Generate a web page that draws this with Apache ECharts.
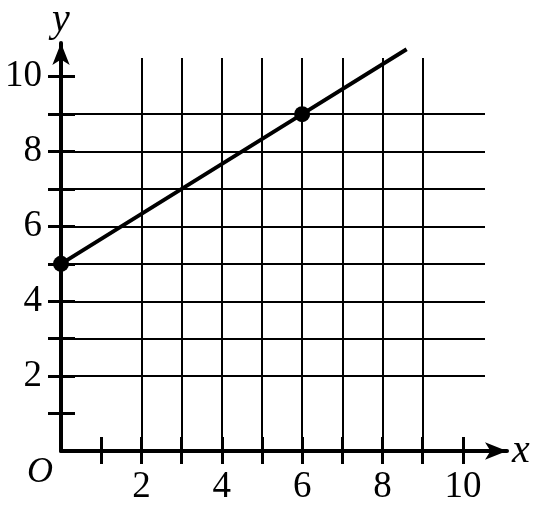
<!DOCTYPE html>
<html>
<head>
<meta charset="utf-8">
<script src="https://cdn.jsdelivr.net/npm/echarts@6/dist/echarts.min.js"></script>
<style>
html,body{margin:0;padding:0;background:#fff;}
#c{width:535px;height:514px;}
</style>
</head>
<body>
<div id="c"></div>
<script>
// Data
var xTicks = [1, 2, 3, 4, 5, 6, 7, 8, 9, 10];
var yTicks = [1, 2, 3, 4, 5, 6, 7, 8, 9, 10];
var xLabels = [2, 4, 6, 8, 10];
var yLabels = [2, 4, 6, 8, 10];
var pointsX = [0, 6];
var pointsY = [5, 9];
var lineX = [0, 6, 8.6];
var lineY = [5, 9, 10.733];

var FONT = 'Liberation Serif';
var chart = echarts.init(document.getElementById('c'), null, {renderer: 'canvas'});

var gridAxisX = {
  gridIndex: 0, type: 'value', min: 0, max: 10.55, interval: 1,
  axisLine: {show: false},
  splitLine: {show: true, showMinLine: false, showMaxLine: false, lineStyle: {color: '#000', width: 2}},
  axisTick: {show: true, customValues: xTicks, inside: false, length: 13, lineStyle: {color: '#000', width: 3}},
  axisLabel: {show: true, customValues: xLabels, margin: 18, color: '#000', fontFamily: FONT, fontSize: 37}
};
var gridAxisY = {
  gridIndex: 0, type: 'value', min: 0, max: 10.5, interval: 1,
  axisLine: {show: false},
  splitLine: {show: true, showMinLine: false, showMaxLine: false, lineStyle: {color: '#000', width: 2}},
  axisTick: {show: true, customValues: yTicks, inside: false, length: 13, lineStyle: {color: '#000', width: 3}},
  axisLabel: {show: true, customValues: yLabels, margin: 19, color: '#000', fontFamily: FONT, fontSize: 37}
};

var option = {
  backgroundColor: '#fff',
  animation: false,
  grid: [
    {left: 61, right: 50, top: 58, bottom: 63},
    {left: 61, right: 28, top: 43, bottom: 63}
  ],
  xAxis: [
    gridAxisX,
    {
      gridIndex: 0, type: 'value', min: 0, max: 10.55, interval: 1, position: 'bottom',
      axisLine: {show: false}, splitLine: {show: false}, axisLabel: {show: false},
      axisTick: {show: true, customValues: xTicks, inside: true, length: 14, lineStyle: {color: '#000', width: 3}}
    },
    {
      gridIndex: 1, type: 'value', min: 0, max: 1, position: 'bottom',
      axisLine: {show: true, symbol: ['none', 'arrow'], symbolSize: [13, 22], lineStyle: {color: '#000', width: 4}},
      splitLine: {show: false}, axisTick: {show: false}, axisLabel: {show: false},
      name: 'x', nameLocation: 'end', nameGap: 5,
      nameTextStyle: {color: '#000', fontFamily: FONT, fontStyle: 'italic', fontSize: 40, verticalAlign: 'middle', padding: [0, 0, 8, 0]}
    }
  ],
  yAxis: [
    gridAxisY,
    {
      gridIndex: 0, type: 'value', min: 0, max: 10.5, interval: 1, position: 'left',
      axisLine: {show: false}, splitLine: {show: false}, axisLabel: {show: false},
      axisTick: {show: true, customValues: yTicks, inside: true, length: 14, lineStyle: {color: '#000', width: 3}}
    },
    {
      gridIndex: 1, type: 'value', min: 0, max: 1, position: 'left',
      axisLine: {show: true, symbol: ['none', 'arrow'], symbolSize: [13, 22], lineStyle: {color: '#000', width: 4}},
      splitLine: {show: false}, axisTick: {show: false}, axisLabel: {show: false},
      name: 'y', nameLocation: 'end', nameGap: 3,
      nameTextStyle: {color: '#000', fontFamily: FONT, fontStyle: 'italic', fontSize: 40, align: 'center'}
    }
  ],
  graphic: [
    {type: 'text', left: 27, top: 455, style: {text: 'O', fill: '#000', font: 'italic 36px "Liberation Serif"'}}
  ],
  series: [
    {
      type: 'line', xAxisIndex: 0, yAxisIndex: 0, clip: false,
      data: lineX.map(function (x, i) { return [x, lineY[i]]; }),
      showSymbol: false, symbol: 'none',
      lineStyle: {color: '#000', width: 4, opacity: 1}
    },
    {
      type: 'scatter', xAxisIndex: 0, yAxisIndex: 0, clip: false,
      data: pointsX.map(function (x, i) { return [x, pointsY[i]]; }),
      symbol: 'circle', symbolSize: 16,
      itemStyle: {color: '#000', opacity: 1}
    }
  ]
};
chart.setOption(option);
</script>
</body>
</html>
